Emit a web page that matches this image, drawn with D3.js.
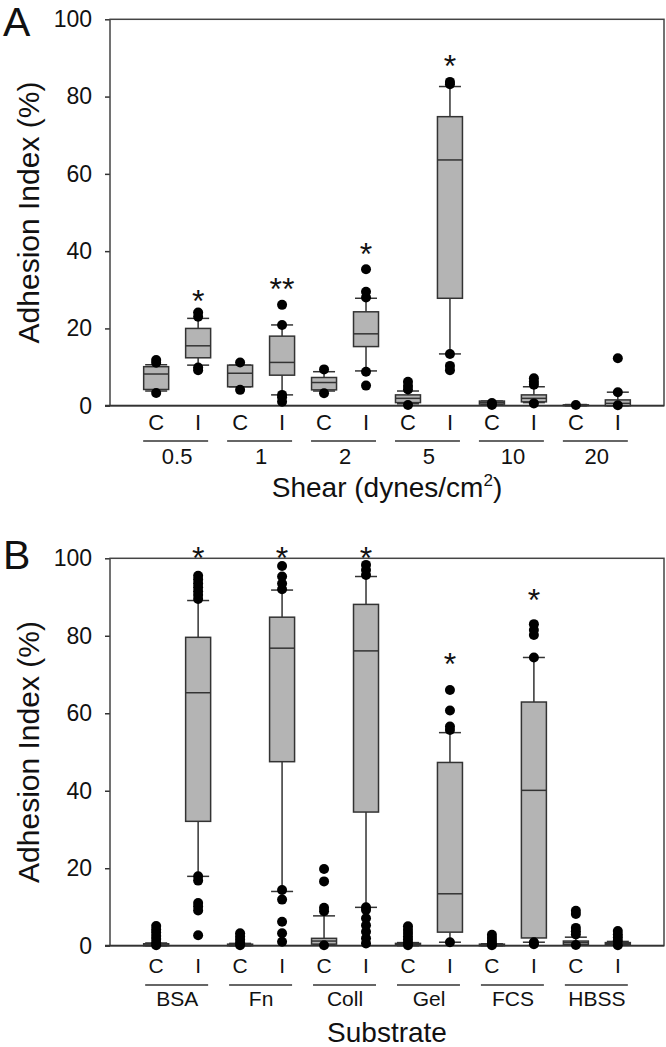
<!DOCTYPE html>
<html><head><meta charset="utf-8">
<script src="https://cdn.jsdelivr.net/npm/d3@7"></script>
<style>body{margin:0;background:#fff}text{font-family:"Liberation Sans",Arial,sans-serif;fill:#111}</style>
</head><body><svg id="c" width="666" height="1047"></svg>
<script>
// ---------- DATA ----------
const treatments = ["C", "I"];
const yTicks = [0, 20, 40, 60, 80, 100];

// Panel A: shear groups
const shearGroups = ["0.5", "1", "2", "5", "10", "20"];
// per box (C,I alternating): [whiskerLow, q1, median, q3, whiskerHigh]
const shearStats = [
  [3.8, 4.2, 8.2, 10.1, 10.6], [10.5, 12.4, 15.5, 20.0, 22.6],
  [4.9, 4.9, 8.4, 10.5, 10.5], [2.8, 7.9, 11.2, 18.0, 20.9],
  [3.8, 4.1, 6.0, 7.3, 8.8],   [9.0, 15.3, 18.6, 24.3, 27.8],
  [0.5, 0.8, 1.9, 2.8, 3.8],   [13.4, 27.8, 63.6, 74.8, 82.6],
  [0.3, 0.4, 0.8, 1.2, 1.2],   [0.8, 1.0, 1.9, 2.8, 4.9],
  [0.0, 0.05, 0.1, 0.2, 0.3],  [0.0, 0.0, 0.6, 1.5, 3.5]
];
const shearOutliers = [
  [11.1, 11.8, 3.3], [23.0, 24.1, 9.9, 9.2],
  [11.2, 4.1], [20.9, 26.1, 2.8, 2.2, 1.0],
  [9.4, 3.2], [28.0, 29.5, 35.3, 8.8, 5.2],
  [4.2, 5.1, 6.2, 0.2], [83.2, 83.8, 13.4, 10.3, 9.2],
  [0.7, 0.2], [5.4, 6.2, 7.1, 0.6],
  [0.2], [3.5, 12.3, 0.1]
];
const shearStars = [null, "*", null, "**", null, "*", null, "*", null, null, null, null];
const shearStarValues = [null, 28.6, null, 31.8, null, 40.8, null, 89.4, null, null, null, null];

// Panel B: substrates
const substrateGroups = ["BSA", "Fn", "Coll", "Gel", "FCS", "HBSS"];
const substrateStats = [
  [0.0, 0.0, 0.2, 0.5, 0.7],   [17.9, 32.1, 65.3, 79.6, 89.1],
  [0.0, 0.0, 0.2, 0.4, 0.6],   [14.0, 47.5, 76.8, 84.8, 91.8],
  [0.2, 0.4, 1.2, 1.9, 7.7],   [9.9, 34.5, 76.1, 88.1, 95.3],
  [0.0, 0.1, 0.3, 0.6, 0.8],   [0.9, 3.5, 13.4, 47.3, 55.0],
  [0.0, 0.0, 0.2, 0.4, 0.5],   [0.9, 2.0, 40.1, 62.9, 74.4],
  [0.2, 0.3, 0.8, 1.2, 2.2],   [0.2, 0.3, 0.5, 0.8, 1.1]
];
const substrateOutliers = [
  [0.8, 1.7, 2.5, 3.4, 4.2, 5.1, 0.1],
  [89.5, 90.5, 91.5, 92.5, 93.5, 94.5, 95.5, 17.9, 16.8, 11.0, 10.1, 9.1, 2.7],
  [0.8, 1.6, 2.4, 3.2, 0.1],
  [92.0, 93.5, 95.3, 98.0, 14.4, 11.9, 6.2, 3.2, 1.0],
  [8.9, 9.8, 16.6, 19.8, 0.1],
  [95.7, 97.0, 98.3, 9.9, 9.2, 7.1, 5.3, 3.6, 1.9, 0.6],
  [0.8, 1.6, 2.4, 3.3, 4.1, 5.0, 0.1],
  [55.7, 56.6, 60.7, 66.0, 0.9],
  [0.5, 1.2, 2.0, 2.8, 0.1],
  [74.4, 80.2, 81.5, 83.0, 0.9, 0.4],
  [8.2, 9.0, 4.6, 3.7, 2.9, 0.2],
  [1.3, 2.1, 2.9, 3.8, 0.1]
];
const substrateStars = [null, "*", null, "*", null, "*", null, "*", null, "*", null, null];
const substrateStarValues = [null, 101.7, null, 101.7, null, 101.7, null, 74.2, null, 90.8, null, null];

// ---------- DRAW ----------
const svg = d3.select("#c");
const X0 = 110, X1 = 664;

function panel(o) {
  const g = svg.append("g");
  const keys = [];
  o.groups.forEach(gr => treatments.forEach(t => keys.push(gr + "|" + t)));
  const x = d3.scalePoint().domain(keys).range([X0, X1]).padding(1.1);
  const y = d3.scaleLinear().domain([0, 100]).range([o.bottom, o.top]);

  // y axis
  const ax = g.append("g").attr("transform", `translate(${X0},0)`)
    .call(d3.axisLeft(y).tickValues(yTicks).tickSize(5).tickPadding(13).tickFormat(d3.format("d")));
  ax.select(".domain").remove();
  ax.selectAll(".tick line").attr("stroke", "#333").attr("stroke-width", 1.5);
  ax.selectAll(".tick text").style("font-size", "23px").attr("fill", "#111")
    .style("font-family", '"Liberation Sans",Arial,sans-serif');

  // frame
  g.append("rect").attr("x", X0).attr("y", y(100)).attr("width", X1 - X0).attr("height", y(0) - y(100))
    .attr("fill", "none").attr("stroke", "#444").attr("stroke-width", 1.5);
  g.append("line").attr("x1", X0 - 5).attr("x2", X1).attr("y1", y(0)).attr("y2", y(0))
    .attr("stroke", "#333").attr("stroke-width", 1.8);

  const boxW = 25, capW = 22;
  keys.forEach((k, i) => {
    const s = o.stats[i], cx = x(k);
    const [wl, q1, md, q3, wh] = s;
    const bg = g.append("g");
    bg.append("line").attr("x1", cx).attr("x2", cx).attr("y1", y(q3)).attr("y2", y(wh)).attr("stroke", "#333").attr("stroke-width", 1.5);
    bg.append("line").attr("x1", cx).attr("x2", cx).attr("y1", y(q1)).attr("y2", y(wl)).attr("stroke", "#333").attr("stroke-width", 1.5);
    [wl, wh].forEach(v => bg.append("line").attr("x1", cx - capW / 2).attr("x2", cx + capW / 2)
      .attr("y1", y(v)).attr("y2", y(v)).attr("stroke", "#333").attr("stroke-width", 1.5));
    bg.append("rect").attr("x", cx - boxW / 2).attr("y", y(q3)).attr("width", boxW)
      .attr("height", Math.max(y(q1) - y(q3), 0.5)).attr("fill", "#b4b4b4").attr("stroke", "#333").attr("stroke-width", 1.5);
    bg.append("line").attr("x1", cx - boxW / 2).attr("x2", cx + boxW / 2).attr("y1", y(md)).attr("y2", y(md))
      .attr("stroke", "#333").attr("stroke-width", 1.5);
    bg.selectAll("circle").data(o.outliers[i]).join("circle")
      .attr("cx", cx).attr("cy", d => y(d)).attr("r", 5).attr("fill", "#000");
    if (o.stars[i]) {
      g.append("text").attr("x", cx).attr("y", y(o.starValues[i]) + 17).attr("text-anchor", "middle")
        .style("font-size", "32px").text(o.stars[i]);
    }
  });

  // category labels
  keys.forEach(k => {
    g.append("text").attr("x", x(k)).attr("y", o.ciBase).attr("text-anchor", "middle")
      .style("font-size", o.lblSize + "px").text(k.split("|")[1]);
  });
  o.groups.forEach(gr => {
    const xc = x(gr + "|C"), xi = x(gr + "|I");
    g.append("line").attr("x1", xc - o.ulL).attr("x2", xi + o.ulR).attr("y1", o.ulY).attr("y2", o.ulY)
      .attr("stroke", "#333").attr("stroke-width", 1.5);
    g.append("text").attr("x", (xc + xi) / 2).attr("y", o.grBase).attr("text-anchor", "middle")
      .style("font-size", o.lblSize + "px").text(gr);
  });

  // titles
  g.append("text").attr("transform", `translate(39,${(o.top + o.bottom) / 2}) rotate(-90)`)
    .attr("text-anchor", "middle").style("font-size", "30px").text("Adhesion Index (%)");
  const xt = g.append("text").attr("x", (X0 + X1) / 2).attr("y", o.titleBase).attr("text-anchor", "middle")
    .style("font-size", "28px");
  xt.append("tspan").text(o.xTitle[0]);
  if (o.xTitle[1]) {
    xt.append("tspan").attr("dy", -11).style("font-size", "17px").text(o.xTitle[1]);
    xt.append("tspan").attr("dy", 11).text(o.xTitle[2]);
  }
  g.append("text").attr("x", 3).attr("y", o.letterBase).style("font-size", "41px").text(o.letter);
}

panel({
  groups: shearGroups, stats: shearStats, outliers: shearOutliers, stars: shearStars, starValues: shearStarValues,
  top: 19.3, bottom: 405.7, ciBase: 430, ulY: 441, ulL: 13, ulR: 10, grBase: 464, titleBase: 497,
  lblSize: 22, xTitle: ["Shear (dynes/cm", "2", ")"], letter: "A", letterBase: 36
});
panel({
  groups: substrateGroups, stats: substrateStats, outliers: substrateOutliers, stars: substrateStars, starValues: substrateStarValues,
  top: 558.3, bottom: 945.7, ciBase: 973, ulY: 985, ulL: 11, ulR: 10, grBase: 1006, titleBase: 1042,
  lblSize: 21, xTitle: ["Substrate"], letter: "B", letterBase: 569
});
</script></body></html>
